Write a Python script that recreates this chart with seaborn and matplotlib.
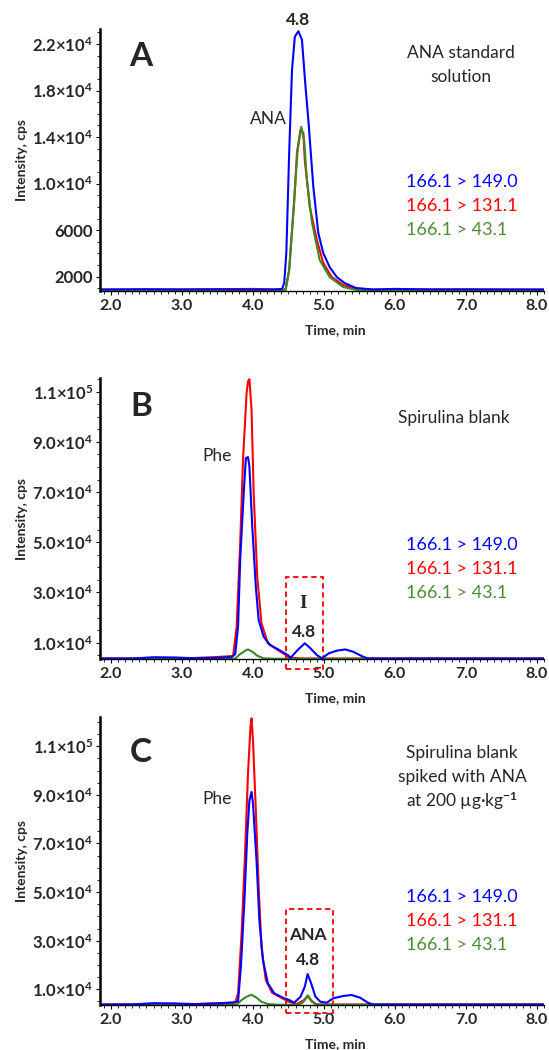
import matplotlib
matplotlib.use("Agg")
import matplotlib.pyplot as plt
from matplotlib.patches import Rectangle
from matplotlib.ticker import FixedLocator, MultipleLocator
import pandas as pd
import seaborn as sns

# transitions (hue order = drawing order, blue on top)
transitions = ["166.1 > 131.1", "166.1 > 43.1", "166.1 > 149.0"]
line_colors = ["#ff0000", "#3a8a26", "#0000ff"]
text_colors = {"166.1 > 149.0": "#0000ff", "166.1 > 131.1": "#ff0000",
               "166.1 > 43.1": "#4b8d35"}

# ---- panel A: ANA standard solution ----
a_t_149 = [1.85, 2.5, 3.0, 3.5, 4.0, 4.30, 4.41, 4.44, 4.47, 4.51, 4.55, 4.59, 4.64,
           4.69, 4.74, 4.78, 4.85, 4.92, 4.99, 5.08, 5.18, 5.29, 5.45, 5.69, 6.0,
           6.5, 7.0, 7.5, 8.1]
a_i_149 = [900, 920, 900, 910, 900, 900, 950, 1460, 4040, 12650, 19790, 22630, 23100,
           22370, 18350, 15490, 9750, 5760, 4040, 2830, 1970, 1460, 1030, 900, 950,
           900, 910, 900, 900]
a_t_131 = [1.85, 3.0, 4.0, 4.40, 4.46, 4.51, 4.58, 4.62, 4.67, 4.71, 4.73, 4.80, 4.90,
           4.99, 5.11, 5.27, 5.45, 5.70, 6.5, 8.1]
a_i_131 = [880, 900, 950, 880, 900, 2580, 8340, 12650, 14630, 14370, 12040, 8000, 5160,
           3180, 1970, 1290, 940, 880, 900, 880]
a_t_43 = [1.85, 3.0, 4.0, 4.40, 4.46, 4.51, 4.58, 4.63, 4.68, 4.72, 4.76, 4.83, 4.94,
          5.08, 5.27, 5.45, 5.70, 6.5, 8.1]
a_i_43 = [860, 870, 860, 860, 880, 2580, 8600, 12900, 14880, 13760, 10320, 6700, 3440,
          1970, 1110, 870, 860, 870, 860]

# ---- panel B: Spirulina blank ----
b_t_149 = [1.85, 2.3, 2.6, 2.9, 3.2, 3.5, 3.70, 3.75, 3.79, 3.82, 3.87, 3.90, 3.93,
           3.95, 3.99, 4.04, 4.08, 4.15, 4.24, 4.37, 4.49, 4.53, 4.63, 4.73, 4.81,
           4.90, 4.97, 5.07, 5.18, 5.30, 5.41, 5.55, 5.62, 6.0, 7.0, 8.1]
b_i_149 = [3700, 3700, 4200, 4100, 3800, 4000, 4300, 5500, 16380, 43000, 69600, 83560,
           83960, 80200, 56270, 32340, 19050, 12390, 9080, 7090, 5090, 4020, 7090, 9760,
           7770, 5090, 3780, 5770, 6810, 7310, 6410, 4420, 3700, 3700, 3700, 3700]
b_t_131 = [1.85, 3.0, 3.5, 3.72, 3.77, 3.82, 3.86, 3.91, 3.93, 3.95, 3.98, 4.01, 4.06,
           4.12, 4.21, 4.35, 4.44, 4.51, 4.7, 5.5, 8.1]
b_i_131 = [3700, 3700, 4300, 4700, 16380, 49650, 82880, 109500, 114100, 115000, 102800,
           69600, 36330, 17740, 9760, 7090, 5490, 4020, 3700, 3700, 3700]
b_t_43 = [1.85, 3.0, 3.70, 3.75, 3.82, 3.89, 3.93, 3.99, 4.06, 4.15, 4.3, 5.0, 6.0, 8.1]
b_i_43 = [3600, 3600, 3600, 3700, 5470, 6810, 7310, 6410, 4810, 3780, 3600, 3600, 3600,
          3600]

# ---- panel C: Spirulina blank spiked with ANA ----
c_t_149 = [1.85, 2.3, 2.6, 2.9, 3.2, 3.5, 3.72, 3.79, 3.83, 3.88, 3.92, 3.95, 3.98,
           4.00, 4.05, 4.09, 4.14, 4.21, 4.30, 4.42, 4.51, 4.58, 4.67, 4.73, 4.77,
           4.82, 4.88, 4.95, 5.04, 5.13, 5.27, 5.39, 5.51, 5.62, 5.69, 6.0, 7.0, 8.1]
c_i_149 = [3750, 3800, 4300, 4200, 3900, 4200, 4600, 5000, 19290, 46700, 74120, 87800,
           91200, 86450, 63140, 38480, 22040, 12470, 8360, 6550, 5600, 4490, 6960, 11070,
           16290, 12470, 6960, 4900, 4490, 6300, 7250, 7660, 6550, 4490, 3750, 3750,
           3750, 3750]
c_t_131 = [1.85, 3.0, 3.5, 3.75, 3.79, 3.84, 3.89, 3.93, 3.965, 3.98, 4.00, 4.04, 4.08,
           4.12, 4.18, 4.27, 4.39, 4.50, 4.62, 4.72, 4.77, 4.83, 4.90, 5.5, 8.1]
c_i_131 = [3750, 3750, 4300, 4500, 8360, 33020, 67250, 98780, 118000, 121500, 112500,
           83700, 52170, 27500, 13820, 8600, 6700, 4900, 3950, 5600, 7250, 4900, 3750,
           3750, 3750]
c_t_43 = [1.85, 3.0, 3.72, 3.77, 3.84, 3.91, 3.98, 4.05, 4.12, 4.21, 4.35, 4.62, 4.69,
          4.74, 4.77, 4.82, 4.88, 4.95, 6.0, 8.1]
c_i_43 = [3650, 3650, 3650, 3700, 5600, 6960, 7780, 6550, 4900, 3950, 3650, 3650, 4250,
          5890, 7540, 5600, 3950, 3650, 3650, 3650]

# tick labels
x_ticks = [2, 3, 4, 5, 6, 7, 8]
x_labels = ["2.0", "3.0", "4.0", "5.0", "6.0", "7.0", "8.0"]
a_yticks = [2000, 6000, 10000, 14000, 18000, 22000]
a_ylabels = ["2000", "6000", "1.0×10$^{4}$", "1.4×10$^{4}$", "1.8×10$^{4}$",
             "2.2×10$^{4}$"]
bc_yticks = [10000, 30000, 50000, 70000, 90000, 110000]
bc_ylabels = ["1.0×10$^{4}$", "3.0×10$^{4}$", "5.0×10$^{4}$", "7.0×10$^{4}$",
              "9.0×10$^{4}$", "1.1×10$^{5}$"]


def to_frame(t149, i149, t131, i131, t43, i43):
    parts = []
    for name, t, i in [("166.1 > 149.0", t149, i149), ("166.1 > 131.1", t131, i131),
                       ("166.1 > 43.1", t43, i43)]:
        parts.append(pd.DataFrame({"time": t, "intensity": i, "transition": name}))
    return pd.concat(parts, ignore_index=True)


sns.set_style("ticks")
plt.rcParams["font.family"] = ["Lato", "DejaVu Sans"]
plt.rcParams["mathtext.fontset"] = "custom"
plt.rcParams["mathtext.rm"] = "Lato:bold"
plt.rcParams["mathtext.it"] = "Lato:bold"
plt.rcParams["mathtext.bf"] = "Lato:bold"

W, H = 549, 1050
fig = plt.figure(figsize=(W / 100, H / 100), dpi=100)


def fx(px):
    return px / W


def fy(py):
    return 1 - py / H


def draw_panel(top, bottom, frame, ylim, yticks, ylabels, yminor):
    ax = fig.add_axes([fx(100), fy(bottom), fx(544) - fx(100), (bottom - top) / H])
    sns.lineplot(data=frame, x="time", y="intensity", hue="transition",
                 hue_order=transitions, palette=line_colors, estimator=None,
                 errorbar=None, legend=False, linewidth=1.5, ax=ax)
    ax.set_xlim(1.845, 8.1)
    ax.set_ylim(*ylim)
    ax.spines[["top", "right"]].set_visible(False)
    ax.spines["left"].set_linewidth(1.8)
    ax.spines["bottom"].set_linewidth(1.0)
    ax.spines["left"].set_color("black")
    ax.spines["bottom"].set_color("black")
    ax.xaxis.set_major_locator(FixedLocator(x_ticks))
    ax.set_xticklabels(x_labels)
    ax.xaxis.set_minor_locator(MultipleLocator(0.1))
    ax.yaxis.set_major_locator(FixedLocator(yticks))
    ax.set_yticklabels(ylabels)
    ax.yaxis.set_minor_locator(MultipleLocator(yminor))
    ax.tick_params(axis="both", which="major", direction="out", length=3, width=0.8,
                   color="black")
    ax.tick_params(axis="both", which="minor", direction="out", length=2, width=0.6,
                   color="black")
    ax.tick_params(axis="y", pad=2, labelsize=12)
    ax.tick_params(axis="x", pad=3, labelsize=11.5)
    for lbl in ax.get_xticklabels() + ax.get_yticklabels():
        lbl.set_fontweight("bold")
    ax.set_xlabel("Time, min", fontsize=10, fontweight="bold")
    ax.set_ylabel("Intensity, cps", fontsize=10, fontweight="bold")
    ax.xaxis.label.set_va("center")
    ax.yaxis.label.set_va("center")
    ax.xaxis.set_label_coords(0.53, -39 / (bottom - top))
    ax.yaxis.set_label_coords(-78 / 444, 0.5)
    return ax


ax_a = draw_panel(29, 291, to_frame(a_t_149, a_i_149, a_t_131, a_i_131, a_t_43, a_i_43),
                  (770, 23290), a_yticks, a_ylabels, 1000)
ax_b = draw_panel(378, 659, to_frame(b_t_149, b_i_149, b_t_131, b_i_131, b_t_43, b_i_43),
                  (3500, 115470), bc_yticks, bc_ylabels, 5000)
ax_c = draw_panel(717, 1005, to_frame(c_t_149, c_i_149, c_t_131, c_i_131, c_t_43, c_i_43),
                  (3550, 122040), bc_yticks, bc_ylabels, 5000)

# panel letters
for letter, y in [("A", 57), ("B", 406), ("C", 752)]:
    fig.text(fx(141), fy(y), letter, fontsize=24, fontweight="bold", ha="center",
             va="center")

# sample descriptions
fig.text(fx(461), fy(53), "ANA standard", fontsize=12.5, ha="center", va="center")
fig.text(fx(461), fy(77), "solution", fontsize=12.5, ha="center", va="center")
fig.text(fx(454), fy(418), "Spirulina blank", fontsize=12.5, ha="center", va="center")
fig.text(fx(462), fy(753), "Spirulina blank", fontsize=12.5, ha="center", va="center")
fig.text(fx(462), fy(777), "spiked with ANA", fontsize=12.5, ha="center", va="center")
fig.text(fx(462), fy(801), "at 200 µg·kg$^{-1}$", fontsize=12.5, ha="center",
         va="center")

# transition legends
legend_order = ["166.1 > 149.0", "166.1 > 131.1", "166.1 > 43.1"]
for rows in [(182, 206, 230), (545, 569, 593), (897, 921, 945)]:
    for name, y in zip(legend_order, rows):
        fig.text(fx(406), fy(y), name, fontsize=13, color=text_colors[name],
                 ha="left", va="center")

# peak annotations
ax_a.text(4.63, 1.035, "4.8", transform=ax_a.get_xaxis_transform(), fontsize=12.5,
          fontweight="bold", ha="center", va="center")
ax_a.text(4.22, 15570, "ANA", fontsize=12.5, ha="center", va="center")
ax_b.text(3.49, 84480, "Phe", fontsize=12.5, ha="center", va="center")
ax_c.text(3.49, 88200, "Phe", fontsize=12.5, ha="center", va="center")
ax_b.text(4.705, 25720, "I", fontsize=14, fontweight="bold", ha="center", va="center",
          family="Liberation Serif")
ax_b.text(4.714, 14390, "4.8", fontsize=12.5, fontweight="bold", ha="center",
          va="center")
ax_c.text(4.78, 32300, "ANA", fontsize=12.5, fontweight="bold", ha="center",
          va="center")
ax_c.text(4.78, 22040, "4.8", fontsize=12.5, fontweight="bold", ha="center",
          va="center")

# dashed boxes around the 4.8 min region
ax_b.add_patch(Rectangle((4.47, -500), 0.51, 36800, fill=False, edgecolor="#ff0000",
                         linestyle=(0, (3, 2)), linewidth=1.3, clip_on=False))
ax_c.add_patch(Rectangle((4.47, 140), 0.66, 42860, fill=False, edgecolor="#ff0000",
                         linestyle=(0, (3, 2)), linewidth=1.3, clip_on=False))

fig.savefig("out.png", dpi=100)
